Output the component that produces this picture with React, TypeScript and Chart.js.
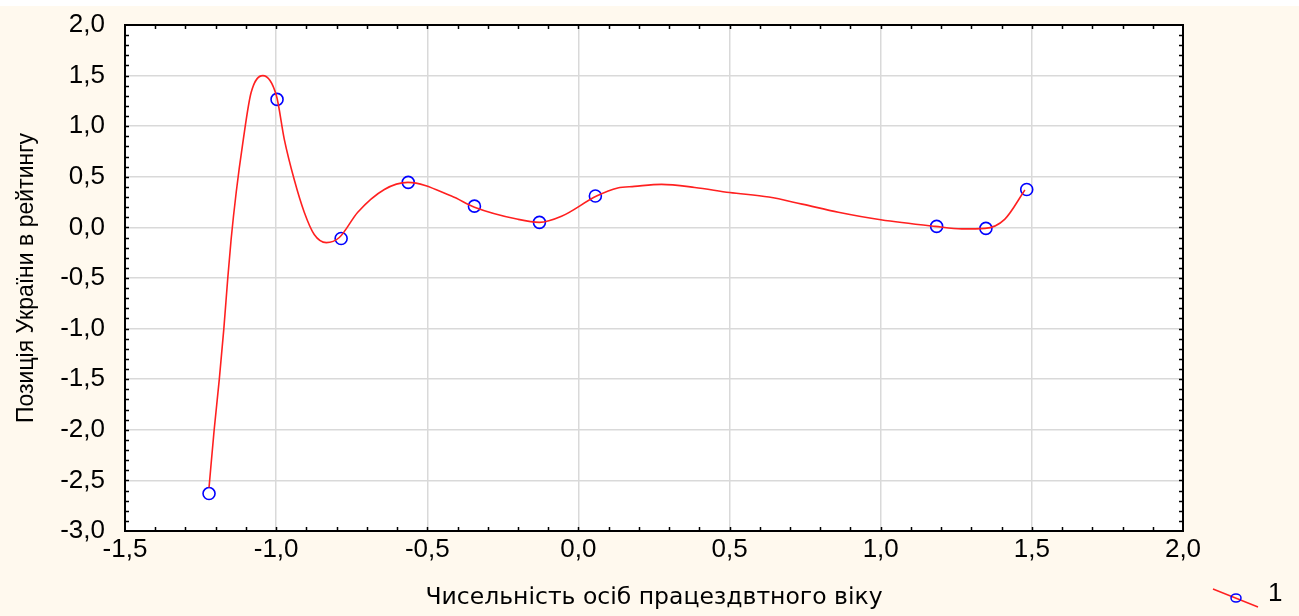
import React, { useEffect, useRef } from "react";
import { Chart, registerables } from "chart.js";

Chart.register(...registerables);

// Observed points
const pointX = [-1.222, -0.997, -0.785, -0.563, -0.344, -0.129, 0.056, 1.185, 1.348, 1.483];
const pointY = [-2.63, 1.265, -0.11, 0.445, 0.21, 0.05, 0.31, 0.01, -0.01, 0.375];

// Smoothed fit curve
const fitX = [-1.222, -1.205, -1.188, -1.173, -1.16, -1.149, -1.132, -1.11, -1.083, -1.044, -0.999, -0.973, -0.94, -0.907, -0.874, -0.834, -0.791, -0.73, -0.642, -0.564, -0.42, -0.344, -0.2, -0.129, -0.056, 0.06, 0.13, 0.185, 0.275, 0.385, 0.5, 0.63, 0.74, 0.86, 1.0, 1.18, 1.268, 1.345, 1.41, 1.477];
const fitY = [-2.57, -2.0, -1.5, -1.0, -0.5, -0.12, 0.35, 0.84, 1.33, 1.5, 1.3, 0.87, 0.47, 0.15, -0.07, -0.15, -0.1, 0.15, 0.375, 0.445, 0.31, 0.2, 0.08, 0.05, 0.11, 0.31, 0.39, 0.405, 0.425, 0.395, 0.345, 0.3, 0.23, 0.15, 0.075, 0.01, -0.015, -0.01, 0.08, 0.37];

const xAxisTitle = "Чисельність осіб працездвтного віку";
const yAxisTitle = "Позиція України в рейтингу";
const legendLabel = "1";
const xMin = -1.5, xMax = 2.0, yMin = -3.0, yMax = 2.0, majorStep = 0.5, minorStep = 0.1;

const fmt = (v: number) => (Math.round(v * 10) / 10).toFixed(1).replace(".", ",");
const sans = "'Liberation Sans', Arial, sans-serif";

const decorPlugin = {
  id: "decor",
  beforeDraw(chart: any) {
    const { ctx, width, height } = chart;
    ctx.save();
    ctx.fillStyle = "#ffffff";
    ctx.fillRect(0, 0, width, height);
    ctx.fillStyle = "#FFF9EE";
    ctx.fillRect(0, 6, width, height - 6);
    const a = chart.chartArea;
    ctx.fillStyle = "#ffffff";
    ctx.fillRect(a.left, a.top, a.right - a.left, a.bottom - a.top);
    ctx.restore();
  },
  afterDatasetsDraw(chart: any) {
    const { ctx } = chart;
    const a = chart.chartArea;
    const xs = chart.scales.x;
    const ys = chart.scales.y;
    ctx.save();
    ctx.strokeStyle = "#000";
    ctx.lineWidth = 1.5;
    ctx.beginPath();
    const n = Math.round((xMax - xMin) / minorStep);
    for (let i = 1; i < n; i++) {
      const px = Math.round(xs.getPixelForValue(xMin + i * minorStep)) + 0.5;
      ctx.moveTo(px, a.bottom); ctx.lineTo(px, a.bottom - 4);
      ctx.moveTo(px, a.top); ctx.lineTo(px, a.top + 4);
    }
    const m = Math.round((yMax - yMin) / minorStep);
    for (let i = 1; i < m; i++) {
      const py = Math.round(ys.getPixelForValue(yMin + i * minorStep)) + 0.5;
      ctx.moveTo(a.left, py); ctx.lineTo(a.left + 4, py);
      ctx.moveTo(a.right, py); ctx.lineTo(a.right - 4, py);
    }
    ctx.stroke();
    ctx.lineWidth = 2;
    ctx.strokeRect(a.left, a.top, a.right - a.left, a.bottom - a.top);

    // legend
    ctx.strokeStyle = "#ff2020";
    ctx.lineWidth = 1.5;
    ctx.beginPath();
    ctx.moveTo(1213, 589);
    ctx.lineTo(1258, 607);
    ctx.stroke();
    ctx.strokeStyle = "#0000ff";
    ctx.beginPath();
    ctx.ellipse(1236, 598, 5, 4, 0, 0, Math.PI * 2);
    ctx.stroke();
    ctx.fillStyle = "#000";
    ctx.font = "26px " + sans;
    ctx.textBaseline = "middle";
    ctx.fillText(legendLabel, 1268, 594);
    ctx.restore();
  },
};

export default function App() {
  const ref = useRef<HTMLCanvasElement | null>(null);
  useEffect(() => {
    if (!ref.current) return;
    const chart = new Chart(ref.current, {
      type: "scatter",
      data: {
        datasets: [
          {
            label: "fit",
            data: fitX.map((x, i) => ({ x, y: fitY[i] })),
            showLine: true,
            borderColor: "#ff2020",
            borderWidth: 1.6,
            pointRadius: 0,
            cubicInterpolationMode: "monotone",
            fill: false,
          },
          {
            label: legendLabel,
            data: pointX.map((x, i) => ({ x, y: pointY[i] })),
            showLine: false,
            pointRadius: 6,
            pointBorderWidth: 1.6,
            pointBorderColor: "#0000ff",
            pointBackgroundColor: "rgba(0,0,0,0)",
          },
        ],
      },
      options: {
        responsive: false,
        animation: false,
        devicePixelRatio: 1,
        layout: { padding: { top: 25, right: 116, bottom: 0, left: 0 } },
        plugins: { legend: { display: false }, tooltip: { enabled: false }, title: { display: false } },
        scales: {
          x: {
            type: "linear",
            min: xMin,
            max: xMax,
            afterFit: (s: any) => { s.height = 85; s.paddingLeft = 0; s.paddingRight = 0; },
            ticks: {
              stepSize: majorStep,
              color: "#000",
              font: { family: sans, size: 26 },
              padding: 3,
              maxRotation: 0,
              callback: (v: any) => fmt(Number(v)),
            },
            grid: { color: "#d9d9d9", lineWidth: 1.5, drawTicks: false },
            border: { display: false },
            title: {
              display: true,
              text: xAxisTitle,
              color: "#000",
              font: { family: "'DejaVu Sans', Verdana, sans-serif", size: 23.5 },
              padding: { top: 0, bottom: 4 },
            },
          },
          y: {
            type: "linear",
            min: yMin,
            max: yMax,
            afterFit: (s: any) => { s.width = 125; s.paddingTop = 0; s.paddingBottom = 0; },
            ticks: {
              stepSize: majorStep,
              color: "#000",
              font: { family: sans, size: 26 },
              padding: 20,
              callback: (v: any) => fmt(Number(v)),
            },
            grid: { color: "#d9d9d9", lineWidth: 1.5, drawTicks: false },
            border: { display: false },
            title: {
              display: true,
              text: yAxisTitle,
              color: "#000",
              font: { family: sans, size: 23 },
              padding: { top: 13, bottom: 0 },
            },
          },
        },
      },
      plugins: [decorPlugin],
    });
    return () => chart.destroy();
  }, []);
  return (
    <div style={{ position: "fixed", left: 0, top: 0, width: 1299, height: 616 }}>
      <canvas ref={ref} width={1299} height={616} style={{ display: "block" }} />
    </div>
  );
}
